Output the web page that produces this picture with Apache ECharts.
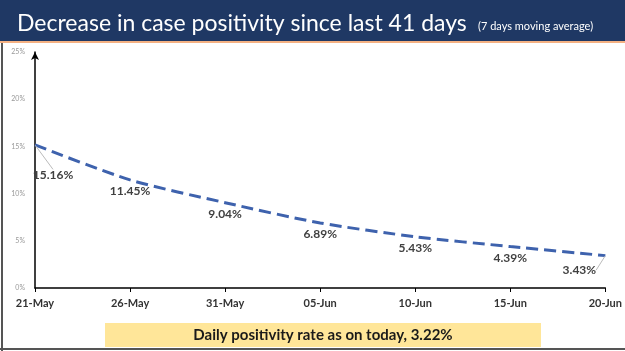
<!DOCTYPE html>
<html>
<head>
<meta charset="utf-8">
<script src="https://cdn.jsdelivr.net/npm/echarts@6/dist/echarts.min.js"></script>
<style>
html,body{margin:0;padding:0;background:#fff;}
#chart{width:625px;height:351px;}
</style>
</head>
<body>
<div id="chart"></div>
<script>
var dates = ['21-May', '26-May', '31-May', '05-Jun', '10-Jun', '15-Jun', '20-Jun'];
var positivity = [15.16, 11.45, 9.04, 6.89, 5.43, 4.39, 3.43];
var yTicks = [0, 5, 10, 15, 20, 25];
var titleText = 'Decrease in case positivity since last 41 days';
var subText = '(7 days moving average)';
var noteText = 'Daily positivity rate as on today, 3.22%';

var myChart = echarts.init(document.getElementById('chart'));

// first and last labels sit away from the point with a guide line
var seriesData = positivity.map(function (v, i) {
    var item = {value: v};
    if (i === 0 || i === positivity.length - 1) {
        item.labelLine = {show: true};
    }
    return item;
});

option = {
    animation: false,
    backgroundColor: '#fff',
    textStyle: {fontFamily: 'Lato'},
    title: {
        text: '{a|' + titleText + '}  {b|' + subText + '}',
        left: 12,
        top: 7,
        textStyle: {
            fontWeight: 'normal',
            rich: {
                a: {color: '#fff', fontSize: 23, fontFamily: 'Lato', fontWeight: 'normal'},
                b: {color: '#fff', fontSize: 11, fontFamily: 'Lato', fontWeight: 'normal', padding: [5, 0, 0, 2]}
            }
        }
    },
    graphic: [
        {type: 'rect', z: -1, shape: {x: 0, y: 0, width: 625, height: 41}, style: {fill: '#1f3864'}},
        {type: 'rect', z: -1, shape: {x: 0, y: 41, width: 625, height: 2}, style: {fill: '#f4b183'}},
        {type: 'rect', shape: {x: 1, y: 43, width: 2, height: 308}, style: {fill: '#555'}},
        {type: 'rect', shape: {x: 0, y: 348, width: 625, height: 2}, style: {fill: '#555'}},
        {
            type: 'rect',
            shape: {x: 105, y: 323, width: 436, height: 24},
            style: {fill: '#ffe699'}
        },
        {
            type: 'text',
            x: 323, y: 335,
            style: {
                text: noteText,
                fill: '#1a1a1a',
                font: 'bold 15px Lato',
                align: 'center',
                verticalAlign: 'middle'
            }
        }
    ],
    grid: {left: 35, right: 17, top: 52, bottom: 63},
    xAxis: {
        type: 'category',
        boundaryGap: false,
        data: dates,
        axisLine: {lineStyle: {color: '#000', width: 1.5}},
        axisTick: {show: true, length: 4, lineStyle: {color: '#000'}},
        axisLabel: {color: '#333', fontSize: 11, fontWeight: 'bold', margin: 10}
    },
    yAxis: {
        type: 'value',
        min: yTicks[0],
        max: yTicks[yTicks.length - 1],
        interval: 5,
        splitLine: {show: false},
        axisLine: {
            show: true,
            symbol: ['none', 'arrow'],
            symbolSize: [6, 8],
            lineStyle: {color: '#000', width: 1.5}
        },
        axisTick: {show: false},
        axisLabel: {
            formatter: '{value}%',
            color: '#999',
            fontSize: 7,
            margin: 10
        }
    },
    series: [{
        type: 'line',
        data: seriesData,
        smooth: 0.25,
        symbol: 'circle',
        symbolSize: 1,
        showSymbol: true,
        itemStyle: {color: 'rgba(0,0,0,0)'},
        lineStyle: {color: '#3e62ad', width: 3, type: [12, 6]},
        label: {
            show: true,
            position: 'bottom',
            distance: 5,
            formatter: function (p) { return p.value.toFixed(2) + '%'; },
            color: '#404040',
            fontSize: 12,
            fontWeight: 'bold',
            fontFamily: 'Lato'
        },
        labelLine: {show: false, lineStyle: {color: '#bbb', width: 1}},
        labelLayout: function (p) {
            if (p.dataIndex === 0) return {dx: 18, dy: 19};
            if (p.dataIndex === positivity.length - 1) return {dx: -26, dy: 3};
            return {};
        }
    }]
};
myChart.setOption(option);
</script>
</body>
</html>
